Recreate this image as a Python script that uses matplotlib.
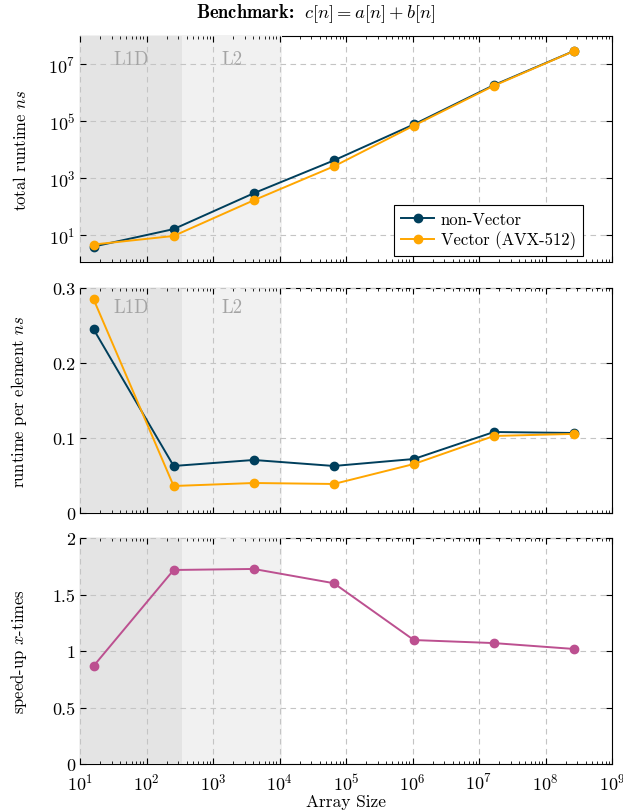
import matplotlib
matplotlib.use('Agg')
import matplotlib.pyplot as plt
import matplotlib.ticker as mticker

# --- data ---
array_size = [16, 256, 4096, 65536, 1048576, 16777216, 268435456]

total_non_vec = [3.9, 16, 290, 4100, 75500, 1.81e6, 2.86e7]
total_vec = [4.6, 9.2, 164, 2540, 68500, 1.72e6, 2.83e7]

per_elem_non_vec = [0.245, 0.0627, 0.0707, 0.0627, 0.072, 0.108, 0.1067]
per_elem_vec = [0.285, 0.036, 0.040, 0.0387, 0.0653, 0.1027, 0.1055]

speedup = [0.867, 1.717, 1.726, 1.60, 1.097, 1.07, 1.018]

cache_regions = [("L1D", 10, 341.33, '#e4e4e4'), ("L2", 341.33, 10922.67, '#f1f1f1')]

C_NONVEC = '#003f5c'
C_VEC = '#ffa600'
C_SPEED = '#bc5090'

plt.rcParams['font.family'] = ['cmr10', 'DejaVu Serif']
plt.rcParams['mathtext.fontset'] = 'cm'
plt.rcParams['axes.formatter.use_mathtext'] = True
plt.rcParams['font.size'] = 12.5

W, H = 623, 812
fig = plt.figure(figsize=(W / 100, H / 100), dpi=100)

def px_axes(top, bottom, left=80, right=612):
    return fig.add_axes([left / W, 1 - bottom / H, (right - left) / W, (bottom - top) / H])

ax1 = px_axes(37, 263)
ax2 = px_axes(289, 514)
ax3 = px_axes(539, 765)
axes = [ax1, ax2, ax3]

for i, ax in enumerate(axes):
    ax.set_xscale('log')
    ax.set_xlim(10, 1e9)
    for name, x0, x1, col in cache_regions:
        ax.axvspan(x0, x1, color=col, lw=0, zorder=0.5)
    for sp in ax.spines.values():
        sp.set_zorder(0.3)
        sp.set_linewidth(0.8)
    ax.grid(True, which='major', ls=(0, (5, 4)), color='#c4c4c4', lw=0.8, zorder=0.8)
    ax.tick_params(which='both', direction='in', top=True, right=True, labelsize=13)
    ax.tick_params(which='major', length=4.5)
    ax.tick_params(which='minor', length=2.5)
    ax.tick_params(axis='x', pad=5.5)
    ax.xaxis.set_major_locator(mticker.LogLocator(base=10, numticks=20))
    ax.xaxis.set_minor_locator(mticker.LogLocator(base=10, subs=range(2, 10), numticks=20))
    if i < 2:
        ax.tick_params(labelbottom=False)
        for name, x0, x1, col in cache_regions:
            ax.text((x0 * x1) ** 0.5, 0.9 if i == 0 else 0.915, name,
                    transform=ax.get_xaxis_transform(), ha='center', va='center',
                    color='#a4a4a4', fontsize=13.5, zorder=1)

# top: total runtime
ax1.set_yscale('log')
ax1.set_ylim(10 ** 0.05, 10 ** 7.98)
ax1.plot(array_size, total_non_vec, '-o', color=C_NONVEC, lw=1.4, ms=6, label='non-Vector', zorder=3)
ax1.plot(array_size, total_vec, '-o', color=C_VEC, lw=1.4, ms=6, label='Vector (AVX-512)', zorder=3)
ax1.yaxis.set_major_locator(mticker.FixedLocator([1e1, 1e3, 1e5, 1e7]))
ax1.yaxis.set_minor_locator(mticker.NullLocator())
ax1.set_ylabel(r'total runtime $ns$', fontsize=12)
leg = ax1.legend(loc='lower right', bbox_to_anchor=(0.945, 0.027), borderaxespad=0,
                 fancybox=False, edgecolor='black', framealpha=1, fontsize=12,
                 handlelength=2.0, borderpad=0.4, labelspacing=0.2, handletextpad=0.4)
leg.get_frame().set_linewidth(0.8)

# middle: runtime per element
ax2.set_ylim(0, 0.3)
ax2.plot(array_size, per_elem_non_vec, '-o', color=C_NONVEC, lw=1.4, ms=6, zorder=3)
ax2.plot(array_size, per_elem_vec, '-o', color=C_VEC, lw=1.4, ms=6, zorder=3)
ax2.yaxis.set_major_locator(mticker.FixedLocator([0, 0.1, 0.2, 0.3]))
ax2.yaxis.set_major_formatter(mticker.FuncFormatter(lambda v, p: '0' if v == 0 else f'{v:.1f}'))
ax2.set_ylabel(r'runtime per element $ns$', fontsize=12)

# bottom: speed-up
ax3.set_ylim(0, 2)
ax3.plot(array_size, speedup, '-o', color=C_SPEED, lw=1.4, ms=6, zorder=3)
ax3.yaxis.set_major_locator(mticker.FixedLocator([0, 0.5, 1, 1.5, 2]))
ax3.yaxis.set_major_formatter(mticker.FuncFormatter(lambda v, p: f'{v:g}'))
ax3.set_ylabel(r'speed-up $x$-times', fontsize=12)
ax3.set_xlabel('Array Size', fontsize=12.5, labelpad=1)

for ax in axes:
    ax.yaxis.set_label_coords(-0.095, 0.5)

fig.text(316 / W, 1 - 14 / H, r'Benchmark: $\;c[n] = a[n] + b[n]$',
         ha='center', va='center', fontsize=13.3, family=['cmb10', 'DejaVu Serif'])

fig.savefig('out.png', dpi=100)
